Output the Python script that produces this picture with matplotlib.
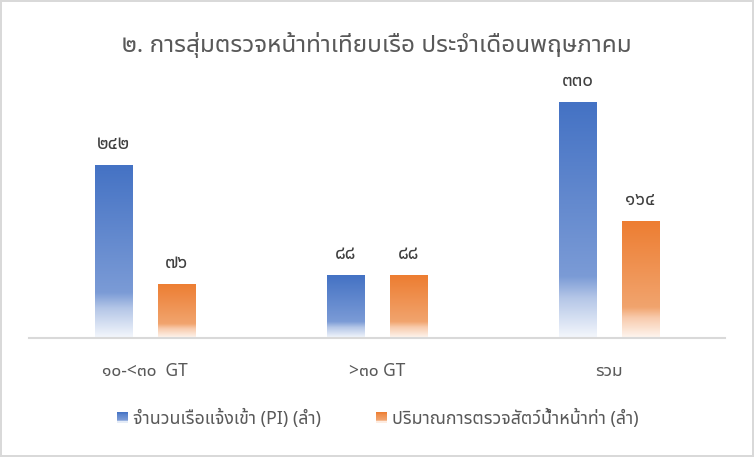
import numpy as np
import matplotlib
matplotlib.use("Agg")
import matplotlib.pyplot as plt
from matplotlib.colors import LinearSegmentedColormap
from matplotlib.patches import Rectangle
from matplotlib.legend_handler import HandlerPatch

plt.rcParams['font.family'] = ['Noto Sans Thai UI', 'Noto Sans']

# data
categories = ['๑๐-<๓๐  GT', '>๓๐ GT', 'รวม']
pi_boats = [242, 88, 330]
inspected = [76, 88, 164]
pi_labels = ['๒๔๒', '๘๘', '๓๓๐']
insp_labels = ['๗๖', '๘๘', '๑๖๔']
series_names = ['จำนวนเรือแจ้งเข้า (PI) (ลำ)', 'ปริมาณการตรวจสัตว์น้ำหน้าท่า (ลำ)']
title = '๒. การสุ่มตรวจหน้าท่าเทียบเรือ ประจำเดือนพฤษภาคม'

text_col = '#595959'

# office-like gradient: dark at top, fading to white at the bottom
blue_cmap = LinearSegmentedColormap.from_list(
    'blue', [(0, '#4472C4'), (0.74, '#7B9BD6'), (0.83, '#B4C6E7'), (1.0, '#F4F7FC')])
orange_cmap = LinearSegmentedColormap.from_list(
    'orange', [(0, '#ED7D31'), (0.74, '#F1A46E'), (0.83, '#F8CBAD'), (1.0, '#FEF6F0')])

grad = np.linspace(0, 1, 256).reshape(-1, 1)


def gradient_bars(ax, bars, cmap):
    for b in bars:
        x0, y0 = b.get_x(), b.get_y()
        w, h = b.get_width(), b.get_height()
        im = ax.imshow(grad, cmap=cmap, aspect='auto', interpolation='bilinear',
                       extent=(x0, x0 + w, y0, y0 + h), origin='upper', zorder=2)
        im.set_clip_path(b)


class GradientHandler(HandlerPatch):
    def __init__(self, cmap, **kw):
        super().__init__(**kw)
        self.cmap = cmap

    def create_artists(self, legend, orig_handle, xdescent, ydescent,
                       width, height, fontsize, trans):
        s = 7.5
        x0 = -xdescent + width - s
        y0 = -ydescent + (height - s) / 2
        n = 12
        arts = []
        for i in range(n):
            c = self.cmap((i + 0.5) / n)
            r = Rectangle((x0, y0 + s - (i + 1) * s / n), s, s / n + 0.2,
                          facecolor=c, edgecolor='none', transform=trans)
            arts.append(r)
        return arts


fig = plt.figure(figsize=(7.54, 4.57), dpi=100)
fig.patch.set_facecolor('white')
fig.patch.set_edgecolor('#D9D9D9')
fig.patch.set_linewidth(1.5)

ax = fig.add_axes([29 / 754, 119 / 457, 696 / 754, 250.3 / 457])

x = np.arange(len(categories))
w = 0.16
off = 0.136
b1 = ax.bar(x - off, pi_boats, w, color='none', edgecolor='none')
b2 = ax.bar(x + off, inspected, w, color='none', edgecolor='none')
gradient_bars(ax, b1, blue_cmap)
gradient_bars(ax, b2, orange_cmap)

for bars, labels in [(b1, pi_labels), (b2, insp_labels)]:
    for b, lab in zip(bars, labels):
        ax.annotate(lab, (b.get_x() + b.get_width() / 2, b.get_height()),
                    xytext=(0, 21), textcoords='offset pixels',
                    ha='center', va='center', fontsize=13.5, color='#404040')

ax.set_xlim(-0.5, 2.5)
ax.set_ylim(0, 350)
ax.set_xticks(x, categories, fontsize=12.5, color=text_col)
ax.tick_params(axis='x', length=0, pad=17)
ax.set_yticks([])
for s in ['top', 'left', 'right']:
    ax.spines[s].set_visible(False)
ax.spines['bottom'].set_color('#D9D9D9')
ax.spines['bottom'].set_linewidth(1.5)

fig.text(0.5, 1 - 45 / 457, title, ha='center', va='center',
         fontsize=17.5, color=text_col)

h1 = Rectangle((0, 0), 1, 1)
h2 = Rectangle((0, 0), 1, 1)
fig.legend([h1, h2], series_names, loc='center', bbox_to_anchor=(0.5, 1 - 418 / 457),
           ncol=2, frameon=False, fontsize=12.8, labelcolor=text_col,
           handler_map={h1: GradientHandler(blue_cmap), h2: GradientHandler(orange_cmap)},
           handlelength=0.7, handletextpad=0.3, columnspacing=3.0)

fig.savefig('out.png', dpi=100)
